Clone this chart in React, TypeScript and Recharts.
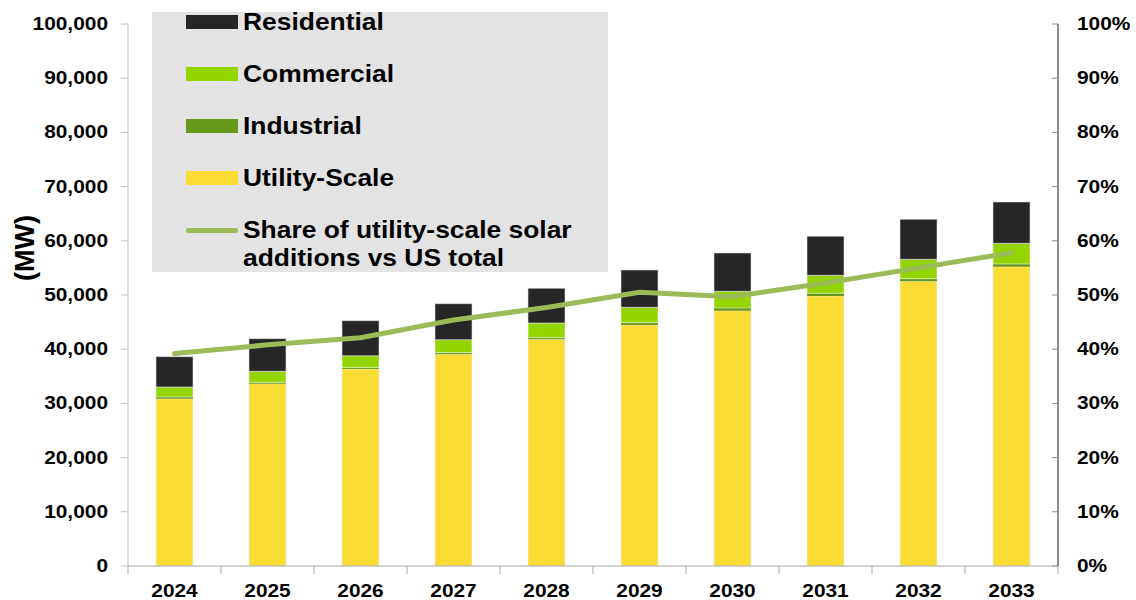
import {
  Bar,
  ComposedChart,
  Label,
  Legend,
  Line,
  XAxis,
  YAxis,
} from "recharts";

const years = ["2024", "2025", "2026", "2027", "2028", "2029", "2030", "2031", "2032", "2033"];

// MW added per segment
const utilityScale = [30870, 33640, 36350, 39050, 41820, 44460, 47100, 49820, 52520, 55220];
const industrial = [310, 250, 240, 310, 310, 430, 500, 490, 490, 500];
const commercial = [1850, 2030, 2210, 2400, 2700, 2840, 3080, 3330, 3580, 3820];
const residential = [5590, 6020, 6460, 6640, 6400, 6880, 7070, 7190, 7370, 7620];

// share of utility-scale in US total, %
const utilityShare = [39.2, 40.8, 42.1, 45.4, 47.7, 50.5, 49.7, 52.2, 55.0, 57.8];

const mwTicks = [0, 10000, 20000, 30000, 40000, 50000, 60000, 70000, 80000, 90000, 100000];
const pctTicks = [0, 10, 20, 30, 40, 50, 60, 70, 80, 90, 100];

const FONT = '"Liberation Sans", Arial, sans-serif';
const WIDTH = 1136;
const HEIGHT = 600;
const LEFT_AXIS_W = 128;
const RIGHT_AXIS_W = 78;
const PLOT_W = WIDTH - LEFT_AXIS_W - RIGHT_AXIS_W;
const BAND = PLOT_W / years.length;
// the original text is a bit wide, stretch glyphs horizontally
const STRETCH = 1.16;

const colors = {
  residential: "#262626",
  commercial: "#94d500",
  industrial: "#679a1a",
  utility: "#fbdc35",
  share: "#9bbb59",
};

const data = years.map((year, i) => ({
  year,
  utility: utilityScale[i],
  industrial: industrial[i],
  commercial: commercial[i],
  residential: residential[i],
  share: utilityShare[i],
}));

const legendItems = [
  { label: "Residential", color: colors.residential, kind: "box" },
  { label: "Commercial", color: colors.commercial, kind: "box" },
  { label: "Industrial", color: colors.industrial, kind: "box" },
  { label: "Utility-Scale", color: colors.utility, kind: "box" },
  { label: "Share of utility-scale solar additions vs US total", color: colors.share, kind: "line" },
];

function LegendBox() {
  return (
    <div
      style={{
        position: "relative",
        background: "#e3e3e3",
        width: 456,
        height: 260,
        fontFamily: FONT,
        fontWeight: 700,
        fontSize: 24,
        color: "#000",
      }}
    >
      {legendItems.map((item, i) => (
        <div
          key={item.label}
          style={{ position: "absolute", left: 34, top: 10 + 52 * i - 14, display: "flex" }}
        >
          <span
            style={{
              display: "inline-block",
              width: 52,
              height: item.kind === "line" ? 5 : 14,
              borderRadius: item.kind === "line" ? 3 : 0,
              background: item.color,
              marginRight: 5,
              marginTop: item.kind === "line" ? 12 : 7,
              flexShrink: 0,
            }}
          />
          <span
            style={{
              lineHeight: "28px",
              width: 310,
              transform: "scaleX(1.1)",
              transformOrigin: "left center",
            }}
          >
            {item.label}
          </span>
        </div>
      ))}
    </div>
  );
}

function StretchText(props: any) {
  const { x, y, anchor, children } = props;
  return (
    <text
      transform={`translate(${x},${y}) scale(${STRETCH},1)`}
      textAnchor={anchor}
      fontFamily={FONT}
      fontWeight={700}
      fontSize={18}
      fill="#000"
    >
      {children}
    </text>
  );
}

function YearTick(props: any) {
  const { x, y, payload, index } = props;
  const last = index === years.length - 1;
  return (
    <g>
      <line x1={x - BAND / 2} x2={x - BAND / 2} y1={y - 8} y2={y} stroke="#a6a6a6" />
      {last && <line x1={x + BAND / 2} x2={x + BAND / 2} y1={y - 8} y2={y} stroke="#a6a6a6" />}
      <StretchText x={x} y={y + 23} anchor="middle">
        {payload.value}
      </StretchText>
    </g>
  );
}

function MwTick(props: any) {
  const { x, y, payload } = props;
  return (
    <StretchText x={x} y={y + 6} anchor="end">
      {Number(payload.value).toLocaleString("en-US")}
    </StretchText>
  );
}

function PctTick(props: any) {
  const { x, y, payload } = props;
  return (
    <g>
      <line x1={x - 25} x2={x - 19} y1={y} y2={y} stroke="#8c8c8c" />
      <StretchText x={x} y={y + 6} anchor="start">
        {payload.value}%
      </StretchText>
    </g>
  );
}

export default function App() {
  return (
    <div style={{ position: "absolute", left: 0, top: 0, width: WIDTH, height: HEIGHT, background: "#fff" }}>
      <ComposedChart
        width={WIDTH}
        height={HEIGHT}
        data={data}
        margin={{ top: 24, right: 0, bottom: 0, left: 0 }}
        barCategoryGap={0}
      >
        <XAxis
          dataKey="year"
          xAxisId="x"
          height={34}
          axisLine={{ stroke: "#a6a6a6" }}
          tickLine={false}
          tickSize={0}
          tickMargin={8}
          tick={<YearTick />}
          interval={0}
        />
        <YAxis
          yAxisId="mw"
          width={LEFT_AXIS_W}
          domain={[0, 100000]}
          ticks={mwTicks}
          axisLine={{ stroke: "#bfbfbf" }}
          tickLine={{ stroke: "#bfbfbf" }}
          tickSize={7}
          tickMargin={13}
          tick={<MwTick />}
        >
          <Label
            content={() => (
              <text
                x={25}
                y={248}
                transform="rotate(-90 25 248)"
                textAnchor="middle"
                dominantBaseline="central"
                fontFamily={FONT}
                fontWeight={700}
                fontSize={27}
                fill="#000"
              >
                (MW)
              </text>
            )}
          />
        </YAxis>
        <YAxis
          yAxisId="pct"
          orientation="right"
          width={RIGHT_AXIS_W}
          domain={[0, 100]}
          ticks={pctTicks}
          axisLine={{ stroke: "#8c8c8c", strokeWidth: 2 }}
          tickLine={false}
          tickSize={0}
          tickMargin={19}
          tick={<PctTick />}
        />
        <Legend
          layout="horizontal"
          verticalAlign="middle"
          align="center"
          content={() => <LegendBox />}
          wrapperStyle={{ position: "absolute", left: 152, top: 12, width: 456, height: 260 }}
        />
        <Bar dataKey="utility" name="Utility-Scale" stackId="s" xAxisId="x" yAxisId="mw" fill={colors.utility} barSize={37} stroke="#f4f4f4" strokeWidth={0.6} isAnimationActive={false} />
        <Bar dataKey="industrial" name="Industrial" stackId="s" xAxisId="x" yAxisId="mw" fill={colors.industrial} barSize={37} isAnimationActive={false} />
        <Bar dataKey="commercial" name="Commercial" stackId="s" xAxisId="x" yAxisId="mw" fill={colors.commercial} barSize={37} stroke="#f4f4f4" strokeWidth={0.6} isAnimationActive={false} />
        <Bar dataKey="residential" name="Residential" stackId="s" xAxisId="x" yAxisId="mw" fill={colors.residential} barSize={37} stroke="#d9d9d9" strokeWidth={0.6} isAnimationActive={false} />
        <Line
          dataKey="share"
          name="Share of utility-scale solar additions vs US total"
          xAxisId="x"
          yAxisId="pct"
          type="linear"
          stroke={colors.share}
          strokeWidth={5}
          strokeLinecap="round"
          dot={false}
          activeDot={false}
          isAnimationActive={false}
        />
      </ComposedChart>
    </div>
  );
}
